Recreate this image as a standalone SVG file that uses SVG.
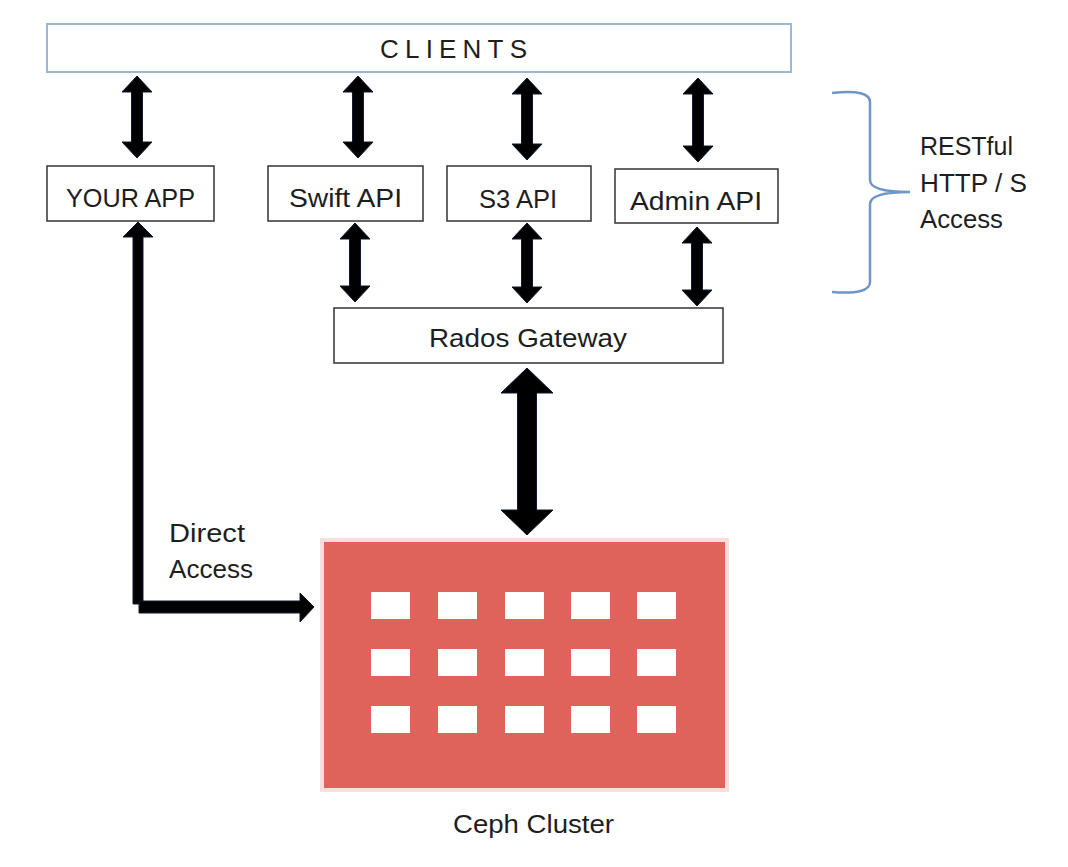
<svg xmlns="http://www.w3.org/2000/svg" width="1068" height="867" viewBox="0 0 1068 867">
<style>
.box{fill:#ffffff;stroke:#333333;stroke-width:1.5}
.lbl{font-family:"Liberation Sans",Arial,sans-serif;font-size:26px;fill:#1e1e1e}
.arr{fill:#000000;stroke:#0a1a30;stroke-width:1;stroke-linejoin:miter}
.sq{fill:#ffffff}
</style>
<rect x="0" y="0" width="1068" height="867" fill="#ffffff"/>

<g id="clients">
<rect x="47" y="24" width="744" height="48" fill="#ffffff" stroke="#9db5d6" stroke-width="2"/>
<text class="lbl" x="380" y="58" font-size="21" textLength="147" lengthAdjust="spacing">CLIENTS</text>
</g>

<g id="your-app">
<rect class="box" x="47" y="166" width="167" height="55"/>
<text class="lbl" x="66" y="207" textLength="129" lengthAdjust="spacingAndGlyphs">YOUR APP</text>
</g>

<g id="swift-api">
<rect class="box" x="268" y="166" width="155" height="55"/>
<text class="lbl" x="289" y="207" textLength="113" lengthAdjust="spacingAndGlyphs">Swift API</text>
</g>

<g id="s3-api">
<rect class="box" x="447" y="166" width="144" height="55"/>
<text class="lbl" x="479" y="208" textLength="78" lengthAdjust="spacingAndGlyphs">S3 API</text>
</g>

<g id="admin-api">
<rect class="box" x="615" y="169" width="163" height="54"/>
<text class="lbl" x="630" y="210" textLength="132" lengthAdjust="spacingAndGlyphs">Admin API</text>
</g>

<g id="rados-gateway">
<rect class="box" x="334" y="308" width="389" height="55"/>
<text class="lbl" x="429" y="347" textLength="198" lengthAdjust="spacingAndGlyphs">Rados Gateway</text>
</g>

<g id="ceph-cluster">
<rect x="322" y="540" width="405" height="250" fill="#e0635b" stroke="#f6e0de" stroke-width="4"/>
<rect class="sq" x="371" y="592" width="39" height="27"/>
<rect class="sq" x="438" y="592" width="39" height="27"/>
<rect class="sq" x="505" y="592" width="39" height="27"/>
<rect class="sq" x="571" y="592" width="39" height="27"/>
<rect class="sq" x="637" y="592" width="39" height="27"/>
<rect class="sq" x="371" y="649" width="39" height="27"/>
<rect class="sq" x="438" y="649" width="39" height="27"/>
<rect class="sq" x="505" y="649" width="39" height="27"/>
<rect class="sq" x="571" y="649" width="39" height="27"/>
<rect class="sq" x="637" y="649" width="39" height="27"/>
<rect class="sq" x="371" y="706" width="39" height="27"/>
<rect class="sq" x="438" y="706" width="39" height="27"/>
<rect class="sq" x="505" y="706" width="39" height="27"/>
<rect class="sq" x="571" y="706" width="39" height="27"/>
<rect class="sq" x="637" y="706" width="39" height="27"/>
<text class="lbl" x="453" y="833" textLength="161" lengthAdjust="spacingAndGlyphs">Ceph Cluster</text>
</g>

<g id="restful-brace">
<path d="M832,93 Q870,89 870,102 L870,180 Q870,192 910,192 Q870,192 870,204 L870,282 Q870,295 832,292" fill="none" stroke="#6f97c6" stroke-width="2.5"/>
<text class="lbl" x="920" y="155" textLength="93" lengthAdjust="spacingAndGlyphs">RESTful</text>
<text class="lbl" x="920" y="192" textLength="107" lengthAdjust="spacingAndGlyphs">HTTP / S</text>
<text class="lbl" x="920" y="228" textLength="83" lengthAdjust="spacingAndGlyphs">Access</text>
</g>

<g id="connectors">
<polygon class="arr" points="137,76 152,92 142.5,92 142.5,142 152,142 137,158 122,142 131.5,142 131.5,92 122,92"/>
<polygon class="arr" points="358,76 373,92 363.5,92 363.5,142 373,142 358,158 343,142 352.5,142 352.5,92 343,92"/>
<polygon class="arr" points="527,78 542,94 532.5,94 532.5,144 542,144 527,160 512,144 521.5,144 521.5,94 512,94"/>
<polygon class="arr" points="698,78 713,94 703.5,94 703.5,146 713,146 698,162 683,146 692.5,146 692.5,94 683,94"/>
<polygon class="arr" points="355,223 370,239 360.5,239 360.5,286 370,286 355,302 340,286 349.5,286 349.5,239 340,239"/>
<polygon class="arr" points="527,223 542,239 532.5,239 532.5,287 542,287 527,303 512,287 521.5,287 521.5,239 512,239"/>
<polygon class="arr" points="697,227 712,243 702.5,243 702.5,290 712,290 697,306 682,290 691.5,290 691.5,243 682,243"/>
<polygon class="arr" points="527,368 553,393 536.5,393 536.5,510 553,510 527,535 501,510 517.5,510 517.5,393 501,393"/>
<polygon class="arr" points="138,222 153,237 143,237 143,604 133,604 133,237 123,237"/>
<polygon class="arr" points="139,601 300,601 300,593 314,607 300,622 300,613 139,613"/>
<text class="lbl" x="169" y="542" textLength="76" lengthAdjust="spacingAndGlyphs">Direct</text>
<text class="lbl" x="169" y="578" textLength="84" lengthAdjust="spacingAndGlyphs">Access</text>
</g>
</svg>
